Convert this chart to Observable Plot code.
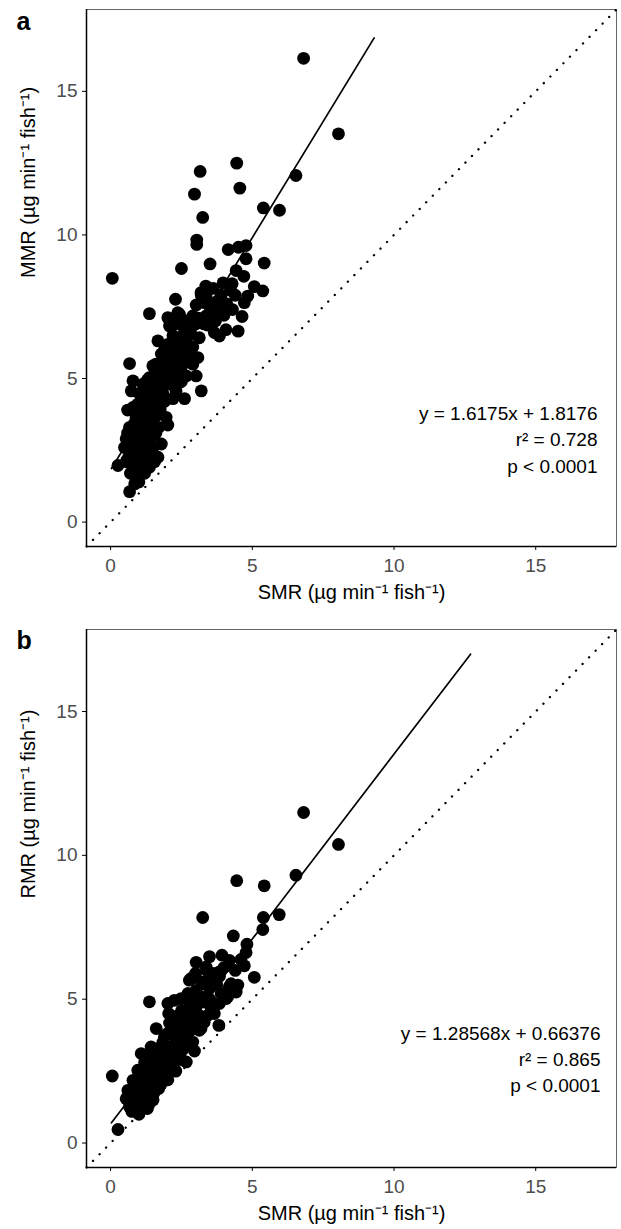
<!DOCTYPE html>
<html><head><meta charset="utf-8">
<script src="https://cdn.jsdelivr.net/npm/d3@7"></script>
<script src="https://cdn.jsdelivr.net/npm/@observablehq/plot@0.6"></script>
<style>
body{margin:0;background:#fff;font-family:"Liberation Sans",Arial,sans-serif;}
svg{display:block}
</style></head><body><div id="chart"></div>
<script>
// ---- shared scale settings ----
const axisDomain = [-0.85, 17.85];
const tickValues = [0, 5, 10, 15];
const xTitle = "SMR (µg min⁻¹ fish⁻¹)";

// ---- panel a: SMR vs MMR ----
const panelALabel = "a";
const yTitleA = "MMR (µg min⁻¹ fish⁻¹)";
const fitA = {slope: 1.6175, intercept: 1.8176, from: 0.03, to: 9.3};
const statsA = ["y = 1.6175x + 1.8176", "r² = 0.728", "p < 0.0001"];
const pointsA = [
  [6.81,16.15],[8.04,13.52],[4.45,12.5],[3.16,12.21],[6.54,12.07],[4.56,11.63],[2.96,11.42],
  [5.39,10.94],[5.96,10.86],[3.25,10.61],[3.04,9.82],[3.04,9.67],[4.15,9.49],[4.51,9.57],
  [4.78,9.63],[4.78,9.17],[5.42,9.02],[2.5,8.83],[3.51,8.99],[0.06,8.49],[4.43,8.76],[4.7,8.56],
  [3.97,8.33],[4.29,8.3],[3.36,8.22],[3.62,8.14],[4.23,8.07],[5.07,8.2],[5.37,8.05],[3.37,7.93],
  [4.84,7.87],[4.72,7.64],[2.29,7.76],[3.02,7.56],[3.31,7.64],[3.84,7.64],[3.84,7.41],[1.37,7.26],
  [2.02,7.12],[2.37,7.29],[2.43,7.24],[2.9,7.18],[3.37,7.18],[3.84,7.35],[4.64,7.16],[2.08,6.83],
  [3.66,6.6],[3.84,6.48],[4.07,6.7],[1.67,6.31],[2.02,6.19],[2.55,6.42],[2.84,6.54],[3.13,6.42],
  [0.67,5.52],[1.79,5.85],[2.2,5.73],[2.61,5.96],[3.08,5.73],[2.9,5.5],[1.49,5.44],[1.85,5.33],
  [3.02,5.09],[3.2,4.57],[0.79,4.92],[1.14,4.8],[1.37,5.03],[1.55,5.15],[2.2,5.03],[2.43,4.86],
  [2.67,5.09],[2.61,4.3],[2.31,4.57],[0.73,4.57],[1.02,4.46],[1.85,4.46],[1.61,4.28],[1.26,4.23],
  [0.79,3.99],[1.02,3.88],[1.37,3.99],[1.96,3.65],[2.02,3.38],[0.67,3.3],[0.96,3.36],[1.26,3.42],
  [1.43,3.24],[1.49,3.01],[0.55,2.9],[0.9,2.95],[1.2,2.84],[1.79,2.72],[0.49,2.6],[0.79,2.49],
  [1.14,2.55],[1.67,2.26],[1.37,1.91],[0.26,1.97],[0.85,1.8],[1.02,2.03],[0.85,1.33],[0.67,1.06],
  [0.67,2.37],[0.9,2.26],[0.79,3.18],[1.14,3.18],[0.9,3.65],[1.26,3.65],
  [2.6,6.8],[2.8,7.0],[3.0,6.9],[2.7,6.2],[2.4,6.0],[2.9,6.1],[2.3,5.5],[2.5,5.4],[2.0,5.6],
  [1.9,5.1],[2.1,4.8],[1.7,4.7],[1.9,4.2],[1.5,4.5],[1.6,3.7],[1.3,3.8],[1.1,4.1],[1.7,3.3],
  [1.5,2.6],[1.1,2.2],[0.95,1.6],[1.2,1.7],[0.7,2.8],[1.0,3.0],[1.3,2.9],[2.2,4.3],[2.5,4.9],
  [2.7,5.6],[3.3,6.9],[3.5,7.3],[3.2,7.9],[3.9,7.9],[4.1,7.6],[4.4,7.9],[2.2,6.5],[1.9,6.0],
  [1.4,4.7],[1.6,5.5],[0.6,3.9],[0.6,2.2],[1.55,2.1],[1.4,2.4],[3.78,7.7],[3.19,7.99],[3.43,7.7],
  [4.5,6.65],[3.41,6.86],
  [0.8,2.0],[1.0,2.4],[1.3,2.1],[0.75,2.7],[1.05,2.7],[1.35,2.65],[0.6,3.1],[1.15,3.0],[1.35,3.35],
  [1.6,3.1],[0.85,3.45],[1.1,3.5],[1.45,3.6],[1.75,3.9],[0.95,4.1],[1.2,4.45],[1.45,4.2],[1.7,4.1],
  [1.3,4.95],[1.65,4.95],[1.85,4.75],[1.75,5.3],[2.0,5.25],[2.35,5.25],[2.1,5.95],[2.35,6.3],
  [2.5,5.7],[2.6,6.6],[2.85,6.8],[2.65,7.0],[3.1,7.1],[2.8,5.9],[2.3,6.9],[3.5,6.9],[3.7,7.0],
  [4.0,7.2],[4.3,7.4],[3.6,7.6],[0.7,1.7],[0.55,2.1],[1.0,1.4]
];

// ---- panel b: SMR vs RMR ----
const panelBLabel = "b";
const yTitleB = "RMR (µg min⁻¹ fish⁻¹)";
const fitB = {slope: 1.28568, intercept: 0.66376, from: 0.03, to: 12.7};
const statsB = ["y = 1.28568x + 0.66376", "r² = 0.865", "p < 0.0001"];
const pointsB = [
  [6.81,11.49],[8.04,10.38],[4.45,9.12],[5.42,8.94],[6.54,9.31],[5.95,7.94],[5.39,7.84],[3.25,7.84],
  [5.37,7.42],[4.33,7.2],[4.81,6.91],[4.78,6.62],[3.02,6.28],[3.49,6.48],[3.93,6.53],[4.19,6.35],
  [4.6,6.38],[3.37,6.12],[4.72,6.16],[5.07,5.76],[2.84,5.72],[3.25,5.54],[3.02,5.31],[3.84,5.8],
  [4.19,5.43],[4.49,5.49],[4.43,5.25],[4.13,5.08],[1.37,4.91],[2.02,4.85],[2.49,5.02],[2.73,5.2],
  [2.78,4.9],[3.02,4.73],[3.55,4.67],[3.84,4.85],[4.07,5.02],[3.43,4.44],[3.66,4.5],[3.82,4.09],
  [1.61,3.98],[2.08,4.17],[2.43,4.03],[2.67,4.21],[2.9,4.27],[3.13,3.92],[2.9,3.51],[1.08,3.11],
  [1.43,3.34],[1.85,3.51],[2.31,3.57],[2.96,3.2],[1.61,2.99],[2.08,3.11],[2.43,3.17],[2.2,2.64],
  [2.67,2.82],[0.06,2.33],[0.96,2.53],[1.37,2.7],[2.02,2.2],[1.79,2.07],[0.79,2.18],[1.14,2.24],
  [1.49,2.3],[0.61,1.83],[0.9,1.89],[1.26,1.83],[1.55,1.77],[0.55,1.54],[0.9,1.49],[1.26,1.6],
  [0.67,1.25],[0.96,1.14],[0.26,0.47],[3.84,5.95],[3.49,5.37],[3.19,5.08],[3.19,3.98],[2.49,3.46],
  [2.25,4.96],[2.78,5.66],[4.25,5.54],
  [1.2,2.0],[1.0,1.7],[1.4,2.0],[1.7,2.5],[1.9,2.8],[1.2,2.6],[0.8,1.6],[1.1,1.3],[1.6,2.0],
  [1.5,1.5],[1.9,3.2],[2.2,3.3],[2.4,3.8],[2.6,3.6],[2.7,4.5],[2.3,4.4],[2.0,3.8],[1.8,3.0],
  [2.1,2.9],[2.5,2.9],[1.3,2.3],[1.0,1.9],[0.7,1.6],[3.0,4.3],[3.3,4.9],[3.5,5.0],[2.9,4.7],
  [2.5,4.6],[3.2,5.6],[3.6,5.9],[3.4,6.0],[3.0,5.9],[4.0,6.1],[4.4,6.0],[2.8,3.9],[2.3,2.5],
  [1.7,1.9],[1.3,1.2],[0.7,1.3],
  [0.75,1.1],[0.85,1.3],[1.0,1.0],[1.15,1.5],[1.4,1.7],[1.35,1.35],[0.65,1.45],[1.1,2.0],[0.95,2.2],
  [1.6,2.3],[1.85,2.4],[1.55,2.6],[1.75,2.75],[2.0,2.55],[1.45,2.95],[1.25,3.0],[1.7,3.3],[2.0,3.35],
  [2.3,3.05],[2.55,3.25],[2.7,3.4],[2.2,3.8],[1.9,3.7],[2.45,4.3],[2.05,4.5],[2.6,4.0],[2.9,4.0],
  [3.1,4.45],[3.3,4.2],[2.75,5.0],[3.0,5.1],[3.45,5.7],[3.75,5.5],[3.9,5.2],[3.6,4.85],[1.2,2.8]
];

const FONT = "Liberation Sans, Arial, sans-serif";

function panel({label, yTitle, points, fit, stats, height, marginTop, marginBottom, statsDx, statsDy, labelDy}) {
  const identity = axisDomain.map(v => ({x: v, y: v}));
  const fitLine = [fit.from, fit.to].map(x => ({x, y: fit.slope * x + fit.intercept}));
  return Plot.plot({
    width: 621, height, marginTop, marginBottom, marginLeft: 86, marginRight: 5,
    style: {fontFamily: FONT, background: "white", overflow: "visible"},
    x: {domain: axisDomain, axis: null},
    y: {domain: axisDomain, axis: null},
    marks: [
      Plot.frame({stroke: "#666", strokeWidth: 1}),
      Plot.line(identity, {x: "x", y: "y", stroke: "black", strokeWidth: 2.3, strokeDasharray: "0.1,9.2", strokeLinecap: "round"}),
      Plot.dot(points, {x: d => d[0], y: d => d[1], r: 6.4, fill: "black", stroke: "none"}),
      Plot.line(fitLine, {x: "x", y: "y", stroke: "black", strokeWidth: 1.7}),
      Plot.ruleX([axisDomain[0]], {stroke: "black", strokeWidth: 1.5}),
      Plot.ruleY([axisDomain[0]], {stroke: "black", strokeWidth: 1.5}),
      Plot.axisX({ticks: tickValues, tickSize: 4, tickPadding: 8, fontSize: 19, fill: "#4d4d4d", stroke: "black", label: null}),
      Plot.axisY({ticks: tickValues, tickSize: 4, tickPadding: 5, fontSize: 19, fill: "#4d4d4d", stroke: "black", label: null}),
      Plot.text([xTitle], {frameAnchor: "bottom", dy: 46, fontSize: 20, fill: "black", lineAnchor: "middle"}),
      Plot.text([yTitle], {frameAnchor: "left", dx: -58, rotate: -90, fontSize: 20, fill: "black", lineAnchor: "middle"}),
      Plot.text([stats.join("\n")], {frameAnchor: "right", dx: statsDx, dy: statsDy, textAnchor: "end", lineAnchor: "middle", fontSize: 19, lineHeight: 1.38, fill: "black"}),
      Plot.text([label], {frameAnchor: "top-left", dx: -70, dy: labelDy, textAnchor: "start", lineAnchor: "middle", fontSize: 25, fontWeight: "bold", fill: "black"})
    ]
  });
}

const root = document.getElementById("chart");
root.append(panel({label: panelALabel, yTitle: yTitleA, points: pointsA, fit: fitA, stats: statsA,
  height: 620, marginTop: 9, marginBottom: 74, statsDx: -19, statsDy: 160, labelDy: 12}));
root.append(panel({label: panelBLabel, yTitle: yTitleB, points: pointsB, fit: fitB, stats: statsB,
  height: 609, marginTop: 9, marginBottom: 62, statsDx: -16, statsDy: 159, labelDy: 11}));
</script></body></html>
